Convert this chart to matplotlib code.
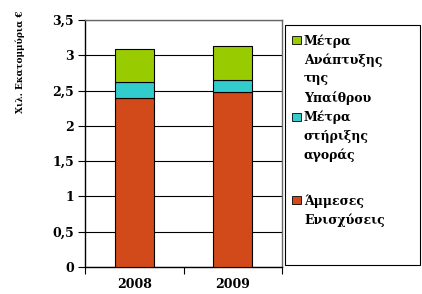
import matplotlib
matplotlib.use("Agg")
import matplotlib.pyplot as plt
from matplotlib.patches import Rectangle
import numpy as np

years = ["2008", "2009"]
direct = [2.39, 2.48]        # Άμμεσες Ενισχύσεις
market = [0.23, 0.165]       # Μέτρα στήριξης αγοράς
rural = [0.47, 0.48]         # Μέτρα Ανάπτυξης της Υπαίθρου
yticks = [0, 0.5, 1, 1.5, 2, 2.5, 3, 3.5]
ytick_labels = ["0", "0,5", "1", "1,5", "2", "2,5", "3", "3,5"]
legend_labels = ["Μέτρα\nΑνάπτυξης\nτης\nΥπαίθρου", "Μέτρα\nστήριξης\nαγοράς", "Άμμεσες\nΕνισχύσεις"]
ylabel = "Χιλ. Εκατομμύρια €"

c_red = "#D24A1A"
c_cyan = "#33CCCC"
c_green = "#99CC00"

W, H = 422, 294
fig = plt.figure(figsize=(W / 100, H / 100), dpi=100)
ax = fig.add_axes([85 / W, 1 - 267 / H, (282 - 85) / W, (267 - 20) / H])

font = dict(family="DejaVu Serif", weight="bold")

x = np.arange(len(years)) + 0.5
bw = 0.4
b1 = np.array(direct)
b2 = b1 + np.array(market)
ax.bar(x, direct, bw, color=c_red, edgecolor="black", linewidth=0.8, zorder=3)
ax.bar(x, market, bw, bottom=b1, color=c_cyan, edgecolor="black", linewidth=0.8, zorder=3)
ax.bar(x, rural, bw, bottom=b2, color=c_green, edgecolor="black", linewidth=0.8, zorder=3)

ax.set_xlim(0, 2)
ax.set_ylim(0, 3.5)
ax.set_yticks(yticks)
ax.set_yticklabels(ytick_labels, fontsize=9, **font)
ax.set_xticks([0, 1, 2])
ax.set_xticklabels([])
ax.set_xticks(x, minor=True)
ax.set_xticklabels(years, minor=True, fontsize=9, **font)
ax.tick_params(axis="x", which="minor", length=0, pad=8)
ax.tick_params(axis="x", which="major", length=5, direction="out", color="black")
ax.tick_params(axis="y", length=5, direction="out", pad=3)
ax.yaxis.grid(True, color="black", linewidth=0.8, zorder=0)
ax.set_axisbelow(True)
for s in ["left", "bottom"]:
    ax.spines[s].set_color("black")
    ax.spines[s].set_linewidth(1.0)
for s in ["top", "right"]:
    ax.spines[s].set_color("#666666")
    ax.spines[s].set_linewidth(1.0)

fig.text(20 / W, 1 - 62 / H, ylabel, rotation=90, ha="center", va="center",
         fontsize=6.5, **font)

# legend box
fig.patches.append(Rectangle((285 / W, 1 - 265 / H), (420 - 285) / W, (265 - 25) / H,
                             transform=fig.transFigure, facecolor="white",
                             edgecolor="black", linewidth=0.8))
entries = [(c_green, 40), (c_cyan, 117), (c_red, 200)]
for (col, yc), lab in zip(entries, legend_labels):
    fig.patches.append(Rectangle((292 / W, 1 - (yc + 4) / H), 9 / W, 8 / H,
                                 transform=fig.transFigure, facecolor=col,
                                 edgecolor="black", linewidth=0.6))
    fig.text(304 / W, 1 - (yc - 6) / H, lab, ha="left", va="top",
             fontsize=9, linespacing=1.55, **font)

fig.savefig("out.png", dpi=100)
